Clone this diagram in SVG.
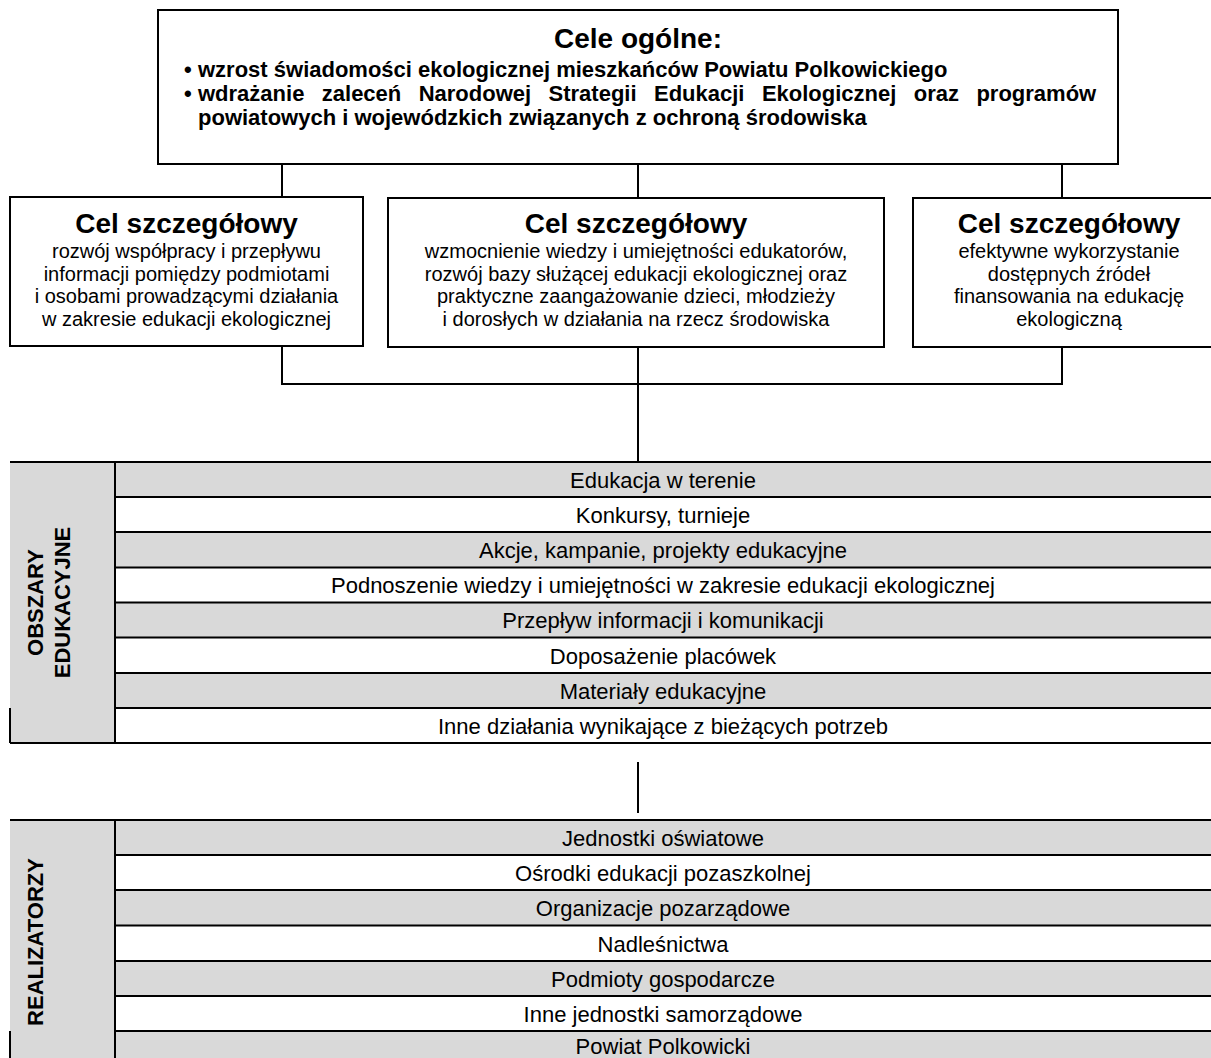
<svg xmlns="http://www.w3.org/2000/svg" width="1211" height="1058" viewBox="0 0 1211 1058">
<style>
.box{fill:#fff;stroke:#000;stroke-width:2}
.ln{stroke:#000;stroke-width:2;fill:none}
.t{font-family:"Liberation Sans",Arial,sans-serif;fill:#000}
.h{font-size:28px;font-weight:bold;text-anchor:middle}
.b{font-size:20px;text-anchor:middle}
.bl{font-size:22px;font-weight:bold}
.row{font-size:22px;text-anchor:middle}
.lab{font-size:22px;font-weight:bold;text-anchor:middle}
.g{fill:#d9d9d9}
.w{fill:#fff}
</style>
<rect width="1211" height="1058" fill="#fff"/>
<g id="connectors">
<line class="ln" x1="282" y1="164" x2="282" y2="197"/>
<line class="ln" x1="638" y1="164" x2="638" y2="198"/>
<line class="ln" x1="1062" y1="164" x2="1062" y2="198"/>
<line class="ln" x1="282" y1="346" x2="282" y2="384"/>
<line class="ln" x1="1062" y1="347" x2="1062" y2="384"/>
<line class="ln" x1="281" y1="384" x2="1063" y2="384"/>
<line class="ln" x1="638" y1="347" x2="638" y2="462"/>
<line class="ln" x1="638" y1="762" x2="638" y2="813"/>
</g>
<g id="cele-ogolne">
<rect class="box" x="158" y="10" width="960" height="154"/>
<text class="t h" x="638" y="48">Cele ogólne:</text>
<text class="t bl" x="184" y="77">•</text>
<text class="t bl" x="198" y="77">wzrost świadomości ekologicznej mieszkańców Powiatu Polkowickiego</text>
<text class="t bl" x="184" y="101">•</text>
<text class="t bl" x="198" y="101" word-spacing="11.3">wdrażanie zaleceń Narodowej Strategii Edukacji Ekologicznej oraz programów</text>
<text class="t bl" x="198" y="125">powiatowych i wojewódzkich związanych z ochroną środowiska</text>
</g>
<g id="cel-1">
<rect class="box" x="10" y="197" width="353" height="149"/>
<text class="t h" x="186.5" y="233">Cel szczegółowy</text>
<text class="t b" x="186.5" y="258">rozwój współpracy i przepływu</text>
<text class="t b" x="186.5" y="281">informacji pomiędzy podmiotami</text>
<text class="t b" x="186.5" y="303">i osobami prowadzącymi działania</text>
<text class="t b" x="186.5" y="326">w zakresie edukacji ekologicznej</text>
</g>
<g id="cel-2">
<rect class="box" x="388" y="198" width="496" height="149"/>
<text class="t h" x="636" y="233">Cel szczegółowy</text>
<text class="t b" x="636" y="258">wzmocnienie wiedzy i umiejętności edukatorów,</text>
<text class="t b" x="636" y="281">rozwój bazy służącej edukacji ekologicznej oraz</text>
<text class="t b" x="636" y="303">praktyczne zaangażowanie dzieci, młodzieży</text>
<text class="t b" x="636" y="326">i dorosłych w działania na rzecz środowiska</text>
</g>
<g id="cel-3">
<rect class="box" x="913" y="198" width="313" height="149"/>
<text class="t h" x="1069" y="233">Cel szczegółowy</text>
<text class="t b" x="1069" y="258">efektywne wykorzystanie</text>
<text class="t b" x="1069" y="281">dostępnych źródeł</text>
<text class="t b" x="1069" y="303">finansowania na edukację</text>
<text class="t b" x="1069" y="326">ekologiczną</text>
</g>
<g id="obszary">
<rect class="g" x="10" y="462" width="105" height="281"/>
<rect class="g" x="115" y="462" width="1096" height="35"/>
<rect class="w" x="115" y="497" width="1096" height="35"/>
<rect class="g" x="115" y="532" width="1096" height="35.5"/>
<rect class="w" x="115" y="567.5" width="1096" height="35"/>
<rect class="g" x="115" y="602.5" width="1096" height="35"/>
<rect class="w" x="115" y="637.5" width="1096" height="35.5"/>
<rect class="g" x="115" y="673" width="1096" height="35"/>
<rect class="w" x="115" y="708" width="1096" height="35"/>
<line class="ln" x1="10" y1="462" x2="1211" y2="462"/>
<line class="ln" x1="115" y1="497" x2="1211" y2="497"/>
<line class="ln" x1="115" y1="532" x2="1211" y2="532"/>
<line class="ln" x1="115" y1="567.5" x2="1211" y2="567.5"/>
<line class="ln" x1="115" y1="602.5" x2="1211" y2="602.5"/>
<line class="ln" x1="115" y1="637.5" x2="1211" y2="637.5"/>
<line class="ln" x1="115" y1="673" x2="1211" y2="673"/>
<line class="ln" x1="115" y1="708" x2="1211" y2="708"/>
<line class="ln" x1="10" y1="743" x2="1211" y2="743"/>
<line class="ln" x1="115" y1="462" x2="115" y2="743"/>
<line class="ln" x1="10" y1="708" x2="10" y2="743"/>
<text class="t lab" transform="translate(43,602.5) rotate(-90)">OBSZARY</text>
<text class="t lab" transform="translate(70,602.5) rotate(-90)">EDUKACYJNE</text>
<text class="t row" x="663" y="488">Edukacja w terenie</text>
<text class="t row" x="663" y="523">Konkursy, turnieje</text>
<text class="t row" x="663" y="558">Akcje, kampanie, projekty edukacyjne</text>
<text class="t row" x="663" y="593">Podnoszenie wiedzy i umiejętności w zakresie edukacji ekologicznej</text>
<text class="t row" x="663" y="628">Przepływ informacji i komunikacji</text>
<text class="t row" x="663" y="663.5">Doposażenie placówek</text>
<text class="t row" x="663" y="698.5">Materiały edukacyjne</text>
<text class="t row" x="663" y="733.5">Inne działania wynikające z bieżących potrzeb</text>
</g>
<g id="realizatorzy">
<rect class="g" x="10" y="820" width="105" height="238"/>
<rect class="g" x="115" y="820" width="1096" height="35"/>
<rect class="w" x="115" y="855" width="1096" height="35"/>
<rect class="g" x="115" y="890" width="1096" height="35.5"/>
<rect class="w" x="115" y="925.5" width="1096" height="35.5"/>
<rect class="g" x="115" y="961" width="1096" height="35"/>
<rect class="w" x="115" y="996" width="1096" height="35"/>
<rect class="g" x="115" y="1031" width="1096" height="27"/>
<line class="ln" x1="10" y1="820" x2="1211" y2="820"/>
<line class="ln" x1="115" y1="855" x2="1211" y2="855"/>
<line class="ln" x1="115" y1="890" x2="1211" y2="890"/>
<line class="ln" x1="115" y1="925.5" x2="1211" y2="925.5"/>
<line class="ln" x1="115" y1="961" x2="1211" y2="961"/>
<line class="ln" x1="115" y1="996" x2="1211" y2="996"/>
<line class="ln" x1="115" y1="1031" x2="1211" y2="1031"/>
<line class="ln" x1="115" y1="820" x2="115" y2="1058"/>
<line class="ln" x1="10" y1="1031" x2="10" y2="1058"/>
<text class="t lab" transform="translate(43,942) rotate(-90)">REALIZATORZY</text>
<text class="t row" x="663" y="846">Jednostki oświatowe</text>
<text class="t row" x="663" y="881">Ośrodki edukacji pozaszkolnej</text>
<text class="t row" x="663" y="916">Organizacje pozarządowe</text>
<text class="t row" x="663" y="951.5">Nadleśnictwa</text>
<text class="t row" x="663" y="987">Podmioty gospodarcze</text>
<text class="t row" x="663" y="1022">Inne jednostki samorządowe</text>
<text class="t row" x="663" y="1054">Powiat Polkowicki</text>
</g>
</svg>
